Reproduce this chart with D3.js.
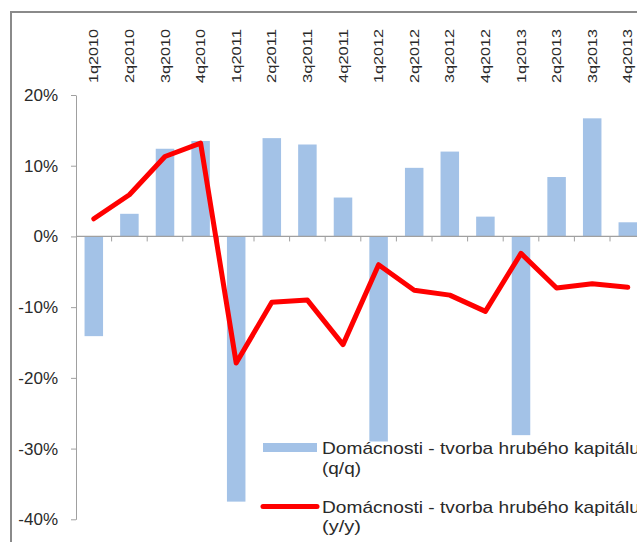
<!DOCTYPE html>
<html>
<head>
<meta charset="utf-8">
<script src="https://cdn.jsdelivr.net/npm/d3@7"></script>
<style>
  html, body { margin: 0; padding: 0; background: #fff; overflow: hidden; }
  svg { display: block; font-family: "Liberation Sans", Arial, sans-serif; }
</style>
</head>
<body>
<script>
// kvartály
const categories = ["1q2010", "2q2010", "3q2010", "4q2010", "1q2011", "2q2011", "3q2011", "4q2011",
    "1q2012", "2q2012", "3q2012", "4q2012", "1q2013", "2q2013", "3q2013", "4q2013"];

// q/q (stĺpce) a y/y (čiara), v %
const qq = [-14.1, 3.2, 12.4, 13.5, -37.5, 13.9, 13.0, 5.5, -29.0, 9.7, 12.0, 2.8, -28.1, 8.4, 16.7, 2.0];
const yy = [2.5, 5.9, 11.3, 13.2, -17.9, -9.3, -9.0, -15.3, -4.0, -7.6, -8.3, -10.6, -2.4, -7.3, -6.7, -7.2];

const yTicks = [20, 10, 0, -10, -20, -30, -40];
const legendLabels = [
    ["Domácnosti - tvorba hrubého kapitálu", "(q/q)"],
    ["Domácnosti - tvorba hrubého kapitálu", "(y/y)"]
];

const width = 637, height = 542;

const svg = d3.select("body")
    .append("svg")
    .attr("width", width)
    .attr("height", height);

// rámik
svg.append("rect")
    .attr("x", 11)
    .attr("y", 12)
    .attr("width", 700)
    .attr("height", 600)
    .attr("fill", "none")
    .attr("stroke", "#8a8a8a")
    .attr("stroke-width", 2);

let xOuter = d3.scaleBand()
    .domain(categories)
    .range([76, 645.6]);

let xBar = d3.scaleBand()
    .domain(categories)
    .range([76, 645.6])
    .paddingInner(0.48)
    .paddingOuter(0.24);

let y = d3.scaleLinear()
    .domain([-40, 20])
    .range([519.3, 95]);

// os y
let yAxis = svg.append("g")
    .attr("transform", "translate(76,0)")
    .call(d3.axisLeft(y)
        .tickValues(yTicks)
        .tickSize(5)
        .tickSizeOuter(0)
        .tickPadding(13)
        .tickFormat(d => d + "%"));
yAxis.select(".domain").attr("stroke", "#a0a0a0");
yAxis.selectAll(".tick line").attr("stroke", "#a0a0a0");
yAxis.selectAll("text")
    .attr("font-size", "17px")
    .attr("fill", "#2a2a2a")
    .attr("font-family", "Liberation Sans, Arial, sans-serif");

// stĺpce
svg.selectAll(".bar")
    .data(categories)
    .enter()
    .append("rect")
    .attr("class", "bar")
    .attr("x", d => xBar(d))
    .attr("width", xBar.bandwidth())
    .attr("y", (d, i) => y(Math.max(0, qq[i])))
    .attr("height", (d, i) => Math.abs(y(qq[i]) - y(0)))
    .attr("fill", "#a3c2e7");

// nulová os s tickmi
svg.append("line")
    .attr("x1", 76)
    .attr("x2", width)
    .attr("y1", y(0))
    .attr("y2", y(0))
    .attr("stroke", "#a0a0a0")
    .attr("stroke-width", 1.2);

svg.selectAll(".ctick")
    .data(categories.slice(1))
    .enter()
    .append("line")
    .attr("x1", d => xOuter(d))
    .attr("x2", d => xOuter(d))
    .attr("y1", y(0))
    .attr("y2", y(0) + 5)
    .attr("stroke", "#a0a0a0");

// popisky kategórií hore
svg.selectAll(".clabel")
    .data(categories)
    .enter()
    .append("text")
    .attr("class", "clabel")
    .attr("transform", d => "translate(" + (xOuter(d) + xOuter.bandwidth() / 2) + ",83) rotate(-90)")
    .attr("dy", "0.36em")
    .attr("text-anchor", "start")
    .attr("font-size", "13px")
    .attr("textLength", 54)
    .attr("lengthAdjust", "spacingAndGlyphs")
    .attr("fill", "#2a2a2a")
    .text(d => d);

// čiara y/y
let line = d3.line()
    .x((d, i) => xOuter(categories[i]) + xOuter.bandwidth() / 2)
    .y(d => y(d));

svg.append("path")
    .datum(yy)
    .attr("d", line)
    .attr("fill", "none")
    .attr("stroke", "#ff0000")
    .attr("stroke-width", 5)
    .attr("stroke-linejoin", "round")
    .attr("stroke-linecap", "round");

// legenda
let legend = svg.append("g");
legend.append("rect")
    .attr("x", 263)
    .attr("y", 443)
    .attr("width", 54)
    .attr("height", 9)
    .attr("fill", "#a3c2e7");
legend.append("line")
    .attr("x1", 263)
    .attr("x2", 317)
    .attr("y1", 506.5)
    .attr("y2", 506.5)
    .attr("stroke", "#ff0000")
    .attr("stroke-width", 5)
    .attr("stroke-linecap", "round");

legendLabels.forEach((lines, k) => {
    let t = legend.append("text")
        .attr("x", 322)
        .attr("y", 454 + k * 58.5)
        .attr("font-size", "17px")
        .attr("fill", "#2a2a2a");
    lines.forEach((s, j) => {
        t.append("tspan")
            .attr("x", 322)
            .attr("dy", j === 0 ? 0 : 19.5)
            .attr("textLength", j === 0 ? 318 : 39)
            .attr("lengthAdjust", "spacingAndGlyphs")
            .text(s);
    });
});
</script>
</body>
</html>
